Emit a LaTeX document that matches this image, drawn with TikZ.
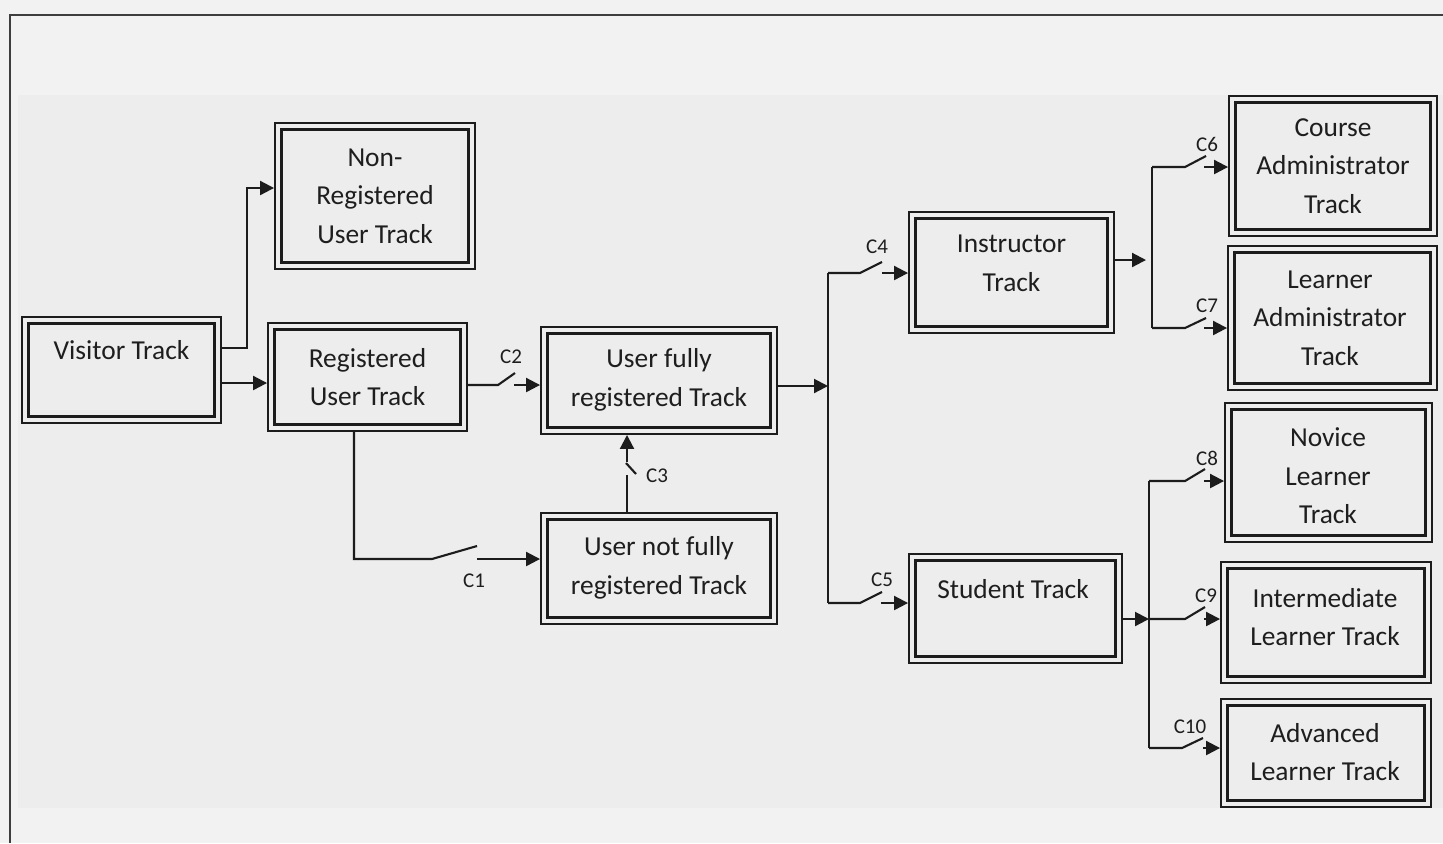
\documentclass[tikz,border=0pt]{standalone}
\usepackage{fontspec}
\setmainfont{Carlito}
\usetikzlibrary{arrows.meta}

\definecolor{linecol}{RGB}{28,28,28}
\definecolor{textcol}{RGB}{30,30,30}
\definecolor{paper}{RGB}{237,237,237}
\definecolor{outerpaper}{RGB}{242,242,242}

\tikzset{
  track/.style={draw=linecol, line width=1.05pt, double=paper, double distance=2.1pt,
                inner sep=0pt, outer sep=2.15pt},
  tracktext/.style={text=textcol, align=center, inner sep=0pt,
                    font=\fontsize{13.7}{19.3}\selectfont},
  wire/.style={draw=linecol, line width=1.05pt},
  arr/.style={wire, -{Triangle[length=7pt,width=7pt]}},
  clab/.style={text=textcol, inner sep=0pt, font=\fontsize{10.5}{12}\selectfont},
}

\begin{document}
\begin{tikzpicture}[x=0.5pt, y=-0.5pt]
  % page and frame
  \useasboundingbox (0,0) rectangle (1443,843);
  \fill[outerpaper] (0,0) rectangle (1443,843);
  \fill[paper] (18,95) rectangle (1443,808);
  \draw[linecol!85, line width=1pt] (10,843) -- (10,15) -- (1443,15);

  % track boxes
  \node[track, minimum width=96.15pt, minimum height=49.65pt]  (visitor) at (121.5,370)  {};
  \node[track, minimum width=96.65pt, minimum height=69.65pt]  (nonreg)  at (375,196)    {};
  \node[track, minimum width=96.15pt, minimum height=50.65pt]  (reg)     at (367.5,377)  {};
  \node[track, minimum width=114.65pt, minimum height=50.15pt] (full)    at (659,380.5)  {};
  \node[track, minimum width=114.65pt, minimum height=52.15pt] (notfull) at (659,568.5)  {};
  \node[track, minimum width=99.15pt, minimum height=57.15pt]  (instr)   at (1011.5,272.5) {};
  \node[track, minimum width=103.15pt, minimum height=51.15pt] (student) at (1015.5,608.5) {};
  \node[track, minimum width=100.65pt, minimum height=66.65pt] (course)  at (1333,166)   {};
  \node[track, minimum width=101.15pt, minimum height=68.65pt] (ladmin)  at (1332.5,318) {};
  \node[track, minimum width=100.15pt, minimum height=66.15pt] (novice)  at (1328.5,472.5) {};
  \node[track, minimum width=101.65pt, minimum height=57.15pt] (inter)   at (1326,622.5) {};
  \node[track, minimum width=101.65pt, minimum height=50.65pt] (adv)     at (1326,753)   {};

  % box captions
  \node[tracktext] (visitorT) at (121.5,350)  {Visitor Track};
  \node[tracktext] (nonregT)  at (375,196)    {Non-\\Registered\\User Track};
  \node[tracktext] (regT)     at (367.5,377)  {Registered\\User Track};
  \node[tracktext] (fullT)    at (659,380)    {User fully\\registered Track};
  \node[tracktext] (notfullT) at (659,568)    {User not fully\\registered Track};
  \node[tracktext] (instrT)   at (1011.5,263) {Instructor\\Track};
  \node[tracktext] (studentT) at (1013,589)   {Student Track};
  \node[tracktext] (courseT)  at (1333,166)   {Course\\Administrator\\Track};
  \node[tracktext] (ladminT)  at (1330,318)   {Learner\\Administrator\\Track};
  \node[tracktext] (noviceT)  at (1328,476)   {Novice\\Learner\\Track};
  \node[tracktext] (interT)   at (1325,617)   {Intermediate\\Learner Track};
  \node[tracktext] (advT)     at (1325,752)   {Advanced\\Learner Track};

  % switch pivots and blade tips
  \coordinate (s1a) at (432,559);  \coordinate (s1b) at (477,546);
  \coordinate (s2a) at (498,385);  \coordinate (s2b) at (515,373);
  \coordinate (s3a) at (636,474);  \coordinate (s3b) at (626,463);
  \coordinate (s4a) at (860,273);  \coordinate (s4b) at (882,262);
  \coordinate (s5a) at (860,603);  \coordinate (s5b) at (882,592);
  \coordinate (s6a) at (1185,167); \coordinate (s6b) at (1206,156);
  \coordinate (s7a) at (1185,328); \coordinate (s7b) at (1206,318);
  \coordinate (s8a) at (1185,481); \coordinate (s8b) at (1205,469);
  \coordinate (s9a) at (1185,619); \coordinate (s9b) at (1205,607);
  \coordinate (s10a) at (1182,748); \coordinate (s10b) at (1203,738);
  % bus junctions
  \coordinate (busA) at (828,386);
  \coordinate (busB) at (1146,260);
  \coordinate (busC) at (1149,619);

  % visitor branches
  \draw[arr] (visitor.east |- 0,348) -| (247,188) -- (nonreg.west |- 0,188);
  \draw[arr] (visitor.east |- 0,383) -- (reg.west |- 0,383);

  % C2 : registered -> fully registered
  \draw[wire] (reg.east |- s2a) -- (s2a) -- (s2b);
  \draw[arr] (514,385) -- (full.west |- s2a);
  \node[clab] (c2) at (511,357) {C2};

  % C1 : registered -> not fully registered
  \draw[wire] (reg.south -| 354,0) -- (354,559) -- (s1a) -- (s1b);
  \draw[arr] (477,559) -- (notfull.west |- s1a);
  \node[clab] (c1) at (474,581) {C1};

  % C3 : not fully -> fully registered
  \draw[wire] (notfull.north -| 627,0) -- (627,475);
  \draw[wire] (s3a) -- (s3b);
  \draw[arr] (627,462) -- (full.south -| 627,0);
  \node[clab] (c3) at (657,476) {C3};

  % fully registered -> instructor / student
  \draw[arr] (full.east |- busA) -- (busA);
  \draw[wire] (828,273) -- (828,603);
  \draw[wire] (828,273) -- (s4a) -- (s4b);
  \draw[arr] (882,273) -- (instr.west |- s4a);
  \node[clab] (c4) at (877,247) {C4};
  \draw[wire] (828,603) -- (s5a) -- (s5b);
  \draw[arr] (881,603) -- (student.west |- s5a);
  \node[clab] (c5) at (882,580) {C5};

  % instructor -> administrator tracks
  \draw[arr] (instr.east |- busB) -- (busB);
  \draw[wire] (1152,167) -- (1152,328);
  \draw[wire] (1152,167) -- (s6a) -- (s6b);
  \draw[arr] (1204,167) -- (course.west |- s6a);
  \node[clab] (c6) at (1207,144) {C6};
  \draw[wire] (1152,328) -- (s7a) -- (s7b);
  \draw[arr] (1204,328) -- (ladmin.west |- s7a);
  \node[clab] (c7) at (1207,306) {C7};

  % student -> learner tracks
  \draw[arr] (student.east |- busC) -- (busC);
  \draw[wire] (1149,481) -- (1149,748);
  \draw[wire] (1149,481) -- (s8a) -- (s8b);
  \draw[arr] (1204,481) -- (novice.west |- s8a);
  \node[clab] (c8) at (1207,458) {C8};
  \draw[wire] (busC) -- (s9a) -- (s9b);
  \draw[arr] (1204,619) -- (inter.west |- s9a);
  \node[clab] (c9) at (1206,596) {C9};
  \draw[wire] (1149,748) -- (s10a) -- (s10b);
  \draw[arr] (1203,748) -- (adv.west |- s10a);
  \node[clab] (c10) at (1190,727) {C10};
\end{tikzpicture}
\end{document}
